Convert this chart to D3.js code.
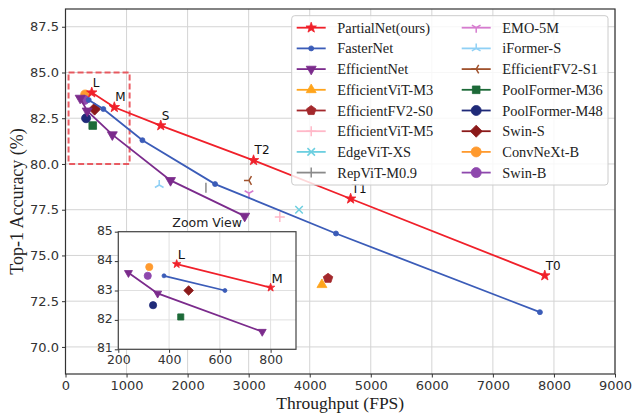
<!DOCTYPE html>
<html>
<head>
<meta charset="utf-8">
<script src="https://cdn.jsdelivr.net/npm/d3@7"></script>
<style>
  body { margin: 0; background: #fff; }
  .tick text { font-family: "DejaVu Sans", sans-serif; fill: #333; }
</style>
</head>
<body>
<div id="chart"></div>
<script>
// ---- data ----
var partialX = [430, 800, 1560, 3080, 4670, 7850];
var partialY = [83.9, 83.1, 82.1, 80.2, 78.1, 73.9];
var partialLabels = ["L", "M", "S", "T2", "T1", "T0"];

var fasterX = [380, 620, 1260, 2450, 4430, 7770];
var fasterY = [83.5, 83.0, 81.3, 78.9, 76.2, 71.9];

var effNetX = [240, 355, 767, 1720, 2935];
var effNetY = [83.6, 82.9, 81.6, 79.1, 77.15];

var singleNames = ["EfficientViT-M3", "EfficientFV2-S0", "EfficientViT-M5", "EdgeViT-XS", "RepViT-M0.9",
  "EMO-5M", "iFormer-S", "EfficientFV2-S1", "PoolFormer-M36", "PoolFormer-M48", "Swin-S", "ConvNeXt-B", "Swin-B"];
var singleX = [4200, 4300, 3510, 3825, 2300, 3005, 1535, 3005, 446, 337, 477, 322, 316];
var singleY = [73.4, 73.75, 77.1, 77.5, 78.7, 78.4, 78.85, 79.1, 82.1, 82.5, 83.0, 83.8, 83.5];

var xTicks = [0, 1000, 2000, 3000, 4000, 5000, 6000, 7000, 8000, 9000];
var yTicks = [70, 72.5, 75, 77.5, 80, 82.5, 85, 87.5];
var insetXTicks = [200, 400, 600, 800];
var insetYTicks = [81, 82, 83, 84, 85];

// zoomed region drawn as dashed box
var zoomBoxX = [50, 1050], zoomBoxY = [80, 85];

// ---- styles ----
var style = {
  "PartialNet(ours)": { color: "#f0202a", marker: "star" },
  "FasterNet": { color: "#3b5cb8", marker: "dot" },
  "EfficientNet": { color: "#7b2b8c", marker: "tdown" },
  "EfficientViT-M3": { color: "#ffa41c", marker: "tup" },
  "EfficientFV2-S0": { color: "#a3282c", marker: "pent" },
  "EfficientViT-M5": { color: "#ffb8c8", marker: "plus" },
  "EdgeViT-XS": { color: "#6ccfe0", marker: "x" },
  "RepViT-M0.9": { color: "#8a8a8a", marker: "vline" },
  "EMO-5M": { color: "#d67ccf", marker: "tri_down" },
  "iFormer-S": { color: "#8fd0f5", marker: "tri_up" },
  "EfficientFV2-S1": { color: "#a0522d", marker: "tri_left" },
  "PoolFormer-M36": { color: "#1d6a38", marker: "square" },
  "PoolFormer-M48": { color: "#1f2a78", marker: "circle" },
  "Swin-S": { color: "#8b1a1a", marker: "diamond" },
  "ConvNeXt-B": { color: "#ff9a2e", marker: "circle" },
  "Swin-B": { color: "#8e48ad", marker: "circle" }
};

var legendCol1 = ["PartialNet(ours)", "FasterNet", "EfficientNet", "EfficientViT-M3", "EfficientFV2-S0",
  "EfficientViT-M5", "EdgeViT-XS", "RepViT-M0.9"];
var legendCol2 = ["EMO-5M", "iFormer-S", "EfficientFV2-S1", "PoolFormer-M36", "PoolFormer-M48",
  "Swin-S", "ConvNeXt-B", "Swin-B"];

var W = 632, H = 416;
var svg = d3.select("#chart").append("svg")
  .attr("width", W).attr("height", H)
  .style("font-family", "'DejaVu Sans', sans-serif");

// ---- marker helpers ----
function poly(pts) {
  return "M" + pts.map(function (p) { return p[0].toFixed(2) + "," + p[1].toFixed(2); }).join("L") + "Z";
}
function ngon(n, r, rot) {
  var pts = [];
  for (var i = 0; i < n; i++) {
    var a = rot + i * 2 * Math.PI / n;
    pts.push([r * Math.sin(a), -r * Math.cos(a)]);
  }
  return pts;
}
function starPts(r) {
  var pts = [];
  for (var i = 0; i < 10; i++) {
    var a = i * Math.PI / 5, rr = i % 2 ? r * 0.4 : r;
    pts.push([rr * Math.sin(a), -rr * Math.cos(a)]);
  }
  return pts;
}
function rays(r, angles) {
  return angles.map(function (a) {
    var t = a * Math.PI / 180;
    return "M0,0L" + (r * Math.sin(t)).toFixed(2) + "," + (-r * Math.cos(t)).toFixed(2);
  }).join("");
}
// s = marker size in px
function marker(g, type, color, s) {
  var r = s / 2, d, filled = true;
  if (type == "star") d = poly(starPts(r * 1.1));
  else if (type == "dot" || type == "circle") d = d3.symbol(d3.symbolCircle, Math.PI * r * r)();
  else if (type == "tdown") d = poly(ngon(3, r * 1.15, Math.PI));
  else if (type == "tup") d = poly(ngon(3, r * 1.15, 0));
  else if (type == "pent") d = poly(ngon(5, r, 0));
  else if (type == "square") d = poly([[-r * .85, -r * .85], [r * .85, -r * .85], [r * .85, r * .85], [-r * .85, r * .85]]);
  else if (type == "diamond") d = poly([[0, -r * 1.1], [r * 1.1, 0], [0, r * 1.1], [-r * 1.1, 0]]);
  else {
    filled = false;
    if (type == "plus") d = "M" + (-r) + ",0H" + r + "M0," + (-r) + "V" + r;
    else if (type == "x") d = "M" + (-r * .75) + "," + (-r * .75) + "L" + (r * .75) + "," + (r * .75) + "M" + (-r * .75) + "," + (r * .75) + "L" + (r * .75) + "," + (-r * .75);
    else if (type == "vline") d = "M0," + (-r) + "V" + r;
    else if (type == "tri_up") d = rays(r, [0, 120, 240]);
    else if (type == "tri_down") d = rays(r, [180, 300, 60]);
    else if (type == "tri_left") d = rays(r, [270, 30, 150]);
  }
  return g.append("path").attr("d", d)
    .attr("fill", filled ? color : "none")
    .attr("stroke", color)
    .attr("stroke-width", filled ? 0.8 : 1.5)
    .attr("stroke-linejoin", "miter");
}

// ---- main plot ----
var plot = { left: 65.5, right: 615, top: 9, bottom: 374 };
var x = d3.scaleLinear().domain([0, 9000]).range([plot.left, plot.right]);
var y = d3.scaleLinear().domain([68.52, 88.47]).range([plot.bottom, plot.top]);

// grid
svg.append("g").selectAll("line").data(xTicks).enter().append("line")
  .attr("x1", function (d) { return x(d); }).attr("x2", function (d) { return x(d); })
  .attr("y1", plot.top).attr("y2", plot.bottom)
  .attr("stroke", "#d4d4d4").attr("stroke-width", 1);
svg.append("g").selectAll("line").data(yTicks).enter().append("line")
  .attr("y1", function (d) { return y(d); }).attr("y2", function (d) { return y(d); })
  .attr("x1", plot.left).attr("x2", plot.right)
  .attr("stroke", "#d4d4d4").attr("stroke-width", 1);

// axes
var xAxis = svg.append("g")
  .attr("transform", "translate(0," + plot.bottom + ")")
  .call(d3.axisBottom(x).tickValues(xTicks).tickSize(3.5).tickPadding(3).tickFormat(d3.format("d")));
var yAxis = svg.append("g")
  .attr("transform", "translate(" + plot.left + ",0)")
  .call(d3.axisLeft(y).tickValues(yTicks).tickSize(3.5).tickPadding(3).tickFormat(d3.format(".1f")));
[xAxis, yAxis].forEach(function (a) {
  a.select(".domain").remove();
  a.selectAll(".tick line").attr("stroke", "#333");
  a.selectAll(".tick text").style("font-size", "13px");
});

// frame
svg.append("rect")
  .attr("x", plot.left).attr("y", plot.top)
  .attr("width", plot.right - plot.left).attr("height", plot.bottom - plot.top)
  .attr("fill", "none").attr("stroke", "#333").attr("stroke-width", 1.2);

// axis labels
svg.append("text")
  .attr("x", (plot.left + plot.right) / 2).attr("y", 409)
  .attr("text-anchor", "middle")
  .style("font-family", "'Liberation Serif', 'Times New Roman', serif")
  .style("font-size", "17.5px").attr("fill", "#222")
  .text("Throughput (FPS)");
svg.append("text")
  .attr("transform", "translate(23," + ((plot.top + plot.bottom) / 2 + 10) + ") rotate(-90)")
  .attr("text-anchor", "middle")
  .style("font-family", "'Liberation Serif', 'Times New Roman', serif")
  .style("font-size", "18px").attr("fill", "#222")
  .text("Top-1 Accuracy (%)");

// dashed zoom box
svg.append("rect")
  .attr("x", x(zoomBoxX[0])).attr("y", y(zoomBoxY[1]))
  .attr("width", x(zoomBoxX[1]) - x(zoomBoxX[0]))
  .attr("height", y(zoomBoxY[0]) - y(zoomBoxY[1]))
  .attr("fill", "none").attr("stroke", "#e8424a").attr("stroke-opacity", 0.85)
  .attr("stroke-width", 2).attr("stroke-dasharray", "6,3");

function zipXY(xs, ys) { return xs.map(function (v, i) { return [v, ys[i]]; }); }
var series = [
  { name: "PartialNet(ours)", pts: zipXY(partialX, partialY), size: 10 },
  { name: "FasterNet", pts: zipXY(fasterX, fasterY), size: 5 },
  { name: "EfficientNet", pts: zipXY(effNetX, effNetY), size: 10 }
];

function drawData(g, sx, sy, filter, scale) {
  // single markers
  singleNames.forEach(function (n, i) {
    if (!filter([singleX[i], singleY[i]])) return;
    var st = style[n];
    var m = g.append("g").attr("transform", "translate(" + sx(singleX[i]) + "," + sy(singleY[i]) + ")");
    var sz = st.marker == "square" ? 9 : st.marker == "circle" ? 9 : st.marker == "diamond" ? 11 : 10;
    marker(m, st.marker, st.color, sz * scale);
  });
  // series lines
  series.slice().reverse().forEach(function (s) {
    var pts = s.pts.filter(filter), st = style[s.name];
    g.append("path").datum(pts)
      .attr("d", d3.line().x(function (d) { return sx(d[0]); }).y(function (d) { return sy(d[1]); }))
      .attr("fill", "none").attr("stroke", st.color).attr("stroke-width", 1.8);
    pts.forEach(function (p) {
      var m = g.append("g").attr("transform", "translate(" + sx(p[0]) + "," + sy(p[1]) + ")");
      marker(m, st.marker, st.color, s.size * scale);
    });
  });
}

var main = svg.append("g");
drawData(main, x, y, function () { return true; }, 1);

// point labels
main.selectAll(".plabel").data(partialLabels).enter().append("text")
  .attr("class", "plabel")
  .attr("x", function (d, i) { return x(partialX[i]) + 1; })
  .attr("y", function (d, i) { return y(partialY[i]) - 6; })
  .style("font-size", "12px").attr("fill", "#111")
  .text(function (d) { return d; });

// ---- legend ----
var leg = svg.append("g");
leg.append("rect")
  .attr("x", 291.7).attr("y", 15.7).attr("width", 316.3).attr("height", 169.3).attr("rx", 3)
  .attr("fill", "#fff").attr("fill-opacity", 0.82)
  .attr("stroke", "#cccccc").attr("stroke-width", 1);
[[legendCol1, 296.7], [legendCol2, 461.7]].forEach(function (col) {
  col[0].forEach(function (n, i) {
    var st = style[n], cy = 27.7 + i * 20.7, x0 = col[1];
    leg.append("line")
      .attr("x1", x0).attr("x2", x0 + 29).attr("y1", cy).attr("y2", cy)
      .attr("stroke", st.color).attr("stroke-width", 1.8);
    var m = leg.append("g").attr("transform", "translate(" + (x0 + 14.5) + "," + cy + ")");
    var sz = n == "FasterNet" ? 5 : st.marker == "square" ? 9 : st.marker == "diamond" ? 11 : 10;
    marker(m, st.marker, st.color, sz);
    leg.append("text")
      .attr("x", x0 + 40.6).attr("y", cy + 5)
      .style("font-family", "'Liberation Serif', 'Times New Roman', serif")
      .style("font-size", "14.4px").attr("fill", "#222")
      .text(n);
  });
});

// ---- inset ----
var ins = { left: 118.3, right: 296, top: 231.7, bottom: 349.3 };
var ix = d3.scaleLinear().domain([200, 900]).range([ins.left, ins.right]);
var iy = d3.scaleLinear().domain([81, 85]).range([ins.bottom, ins.top]);
var inset = svg.append("g");
inset.append("rect")
  .attr("x", ins.left).attr("y", ins.top)
  .attr("width", ins.right - ins.left).attr("height", ins.bottom - ins.top)
  .attr("fill", "#fff");
inset.append("g").selectAll("line").data(insetXTicks).enter().append("line")
  .attr("x1", function (d) { return ix(d); }).attr("x2", function (d) { return ix(d); })
  .attr("y1", ins.top).attr("y2", ins.bottom)
  .attr("stroke", "#e0e0e0");
inset.append("g").selectAll("line").data(insetYTicks).enter().append("line")
  .attr("y1", function (d) { return iy(d); }).attr("y2", function (d) { return iy(d); })
  .attr("x1", ins.left).attr("x2", ins.right)
  .attr("stroke", "#e0e0e0");
var ixAxis = inset.append("g")
  .attr("transform", "translate(0," + ins.bottom + ")")
  .call(d3.axisBottom(ix).tickValues(insetXTicks).tickSize(3.5).tickPadding(2.5).tickFormat(d3.format("d")));
var iyAxis = inset.append("g")
  .attr("transform", "translate(" + ins.left + ",0)")
  .call(d3.axisLeft(iy).tickValues(insetYTicks).tickSize(3.5).tickPadding(2).tickFormat(d3.format("d")));
[ixAxis, iyAxis].forEach(function (a) {
  a.select(".domain").remove();
  a.selectAll(".tick line").attr("stroke", "#333");
  a.selectAll(".tick text").style("font-size", "12.5px").attr("fill", "#222");
});
iyAxis.selectAll(".tick text").attr("dy", "0.2em");
inset.append("rect")
  .attr("x", ins.left).attr("y", ins.top)
  .attr("width", ins.right - ins.left).attr("height", ins.bottom - ins.top)
  .attr("fill", "none").attr("stroke", "#444").attr("stroke-width", 1.2);
inset.append("text")
  .attr("x", (ins.left + ins.right) / 2).attr("y", ins.top - 5)
  .attr("text-anchor", "middle")
  .style("font-size", "12.5px").attr("fill", "#222")
  .text("Zoom View");

drawData(inset, ix, iy, function (p) { return p[0] >= 200 && p[0] <= 900 && p[1] >= 81 && p[1] <= 85; }, 0.8);
partialLabels.forEach(function (lb, i) {
  if (partialX[i] > 900) return;
  inset.append("text")
    .attr("x", ix(partialX[i]) + 1).attr("y", iy(partialY[i]) - 5)
    .style("font-size", "13px").attr("fill", "#111")
    .text(lb);
});
</script>
</body>
</html>
